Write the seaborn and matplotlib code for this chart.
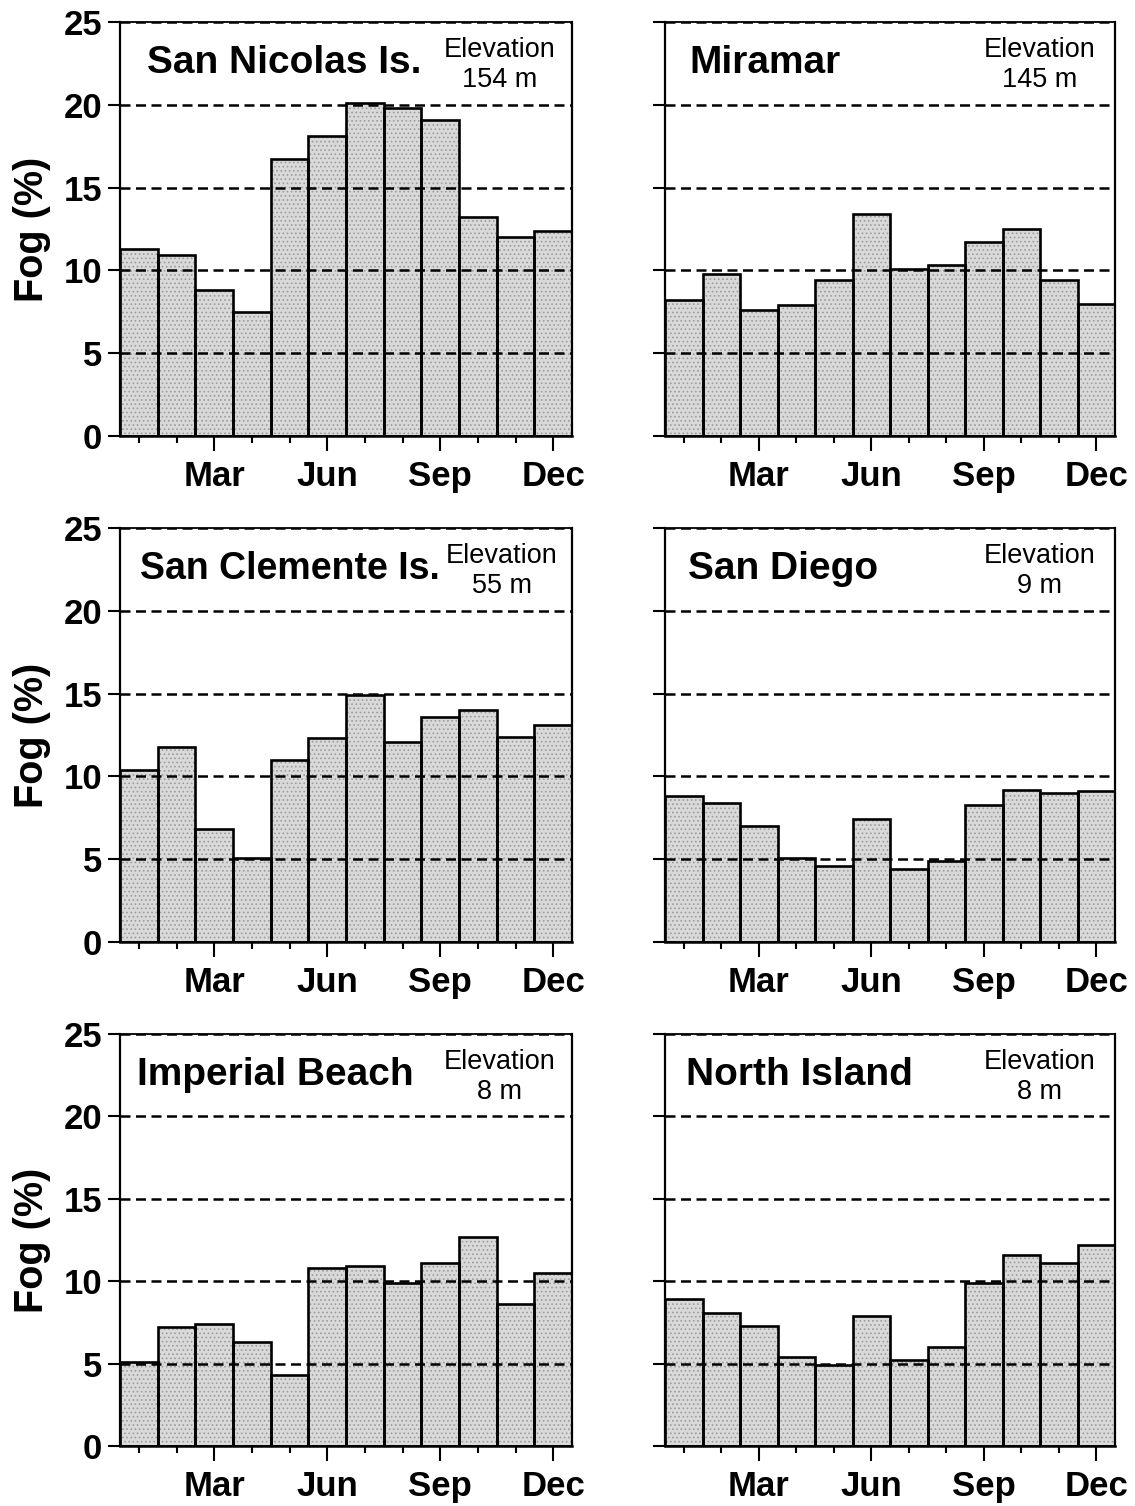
import matplotlib
matplotlib.use("Agg")
import matplotlib.pyplot as plt
import seaborn as sns
import pandas as pd

# ---------------- data ----------------
months = ["Jan", "Feb", "Mar", "Apr", "May", "Jun",
          "Jul", "Aug", "Sep", "Oct", "Nov", "Dec"]
labeled_months = ["Mar", "Jun", "Sep", "Dec"]
y_ticks = [0, 5, 10, 15, 20, 25]

stations = ["San Nicolas Is.", "Miramar", "San Clemente Is.",
            "San Diego", "Imperial Beach", "North Island"]
elevations = ["154 m", "145 m", "55 m", "9 m", "8 m", "8 m"]

san_nicolas = [11.3, 10.9, 8.8, 7.5, 16.7, 18.1, 20.1, 19.8, 19.1, 13.2, 12.0, 12.4]
miramar = [8.2, 9.8, 7.6, 7.9, 9.4, 13.4, 10.1, 10.3, 11.7, 12.5, 9.4, 8.0]
san_clemente = [10.4, 11.8, 6.8, 5.1, 11.0, 12.3, 14.9, 12.1, 13.6, 14.0, 12.4, 13.1]
san_diego = [8.8, 8.4, 7.0, 5.1, 4.6, 7.4, 4.4, 4.9, 8.3, 9.2, 9.0, 9.1]
imperial_beach = [5.1, 7.2, 7.4, 6.3, 4.3, 10.8, 10.9, 9.9, 11.1, 12.7, 8.6, 10.5]
north_island = [8.9, 8.1, 7.3, 5.4, 4.9, 7.9, 5.2, 6.0, 9.9, 11.6, 11.1, 12.2]

series = [san_nicolas, miramar, san_clemente, san_diego, imperial_beach, north_island]

# ---------------- style ----------------
sns.set_style("ticks")
plt.rcParams["font.family"] = ["Liberation Sans", "DejaVu Sans"]
plt.rcParams["hatch.linewidth"] = 0.7
plt.rcParams["text.color"] = "black"
plt.rcParams["axes.labelcolor"] = "black"
plt.rcParams["xtick.color"] = "black"
plt.rcParams["ytick.color"] = "black"

fig = plt.figure(figsize=(11.35, 15.06), dpi=100)

W, H = 1135.0, 1506.0
col_left = [120, 665]
col_width = [452, 450]
row_top = [22, 528, 1034]
row_bottom = [436, 942, 1446]
title_x = [0.060, 0.055, 0.044, 0.050, 0.038, 0.047]
title_size = [28, 28, 27, 28, 28, 28]
elev_x = [0.84, 0.833, 0.845, 0.833, 0.84, 0.833]

for i, (name, elev, vals) in enumerate(zip(stations, elevations, series)):
    r, c = divmod(i, 2)
    left = col_left[c] / W
    bottom = 1 - row_bottom[r] / H
    width = col_width[c] / W
    height = (row_bottom[r] - row_top[r]) / H
    ax = fig.add_axes([left, bottom, width, height])

    df = pd.DataFrame({"month": months, "fog": vals})
    # stippled gray fill
    sns.barplot(data=df, x="month", y="fog", order=months, ax=ax, width=1.0,
                color="#d9d9d9", edgecolor="#9c9c9c", linewidth=0,
                hatch="....", saturation=1)
    # black outlines
    sns.barplot(data=df, x="month", y="fog", order=months, ax=ax, width=1.0,
                fill=False, color="black", linewidth=1.9)

    ax.set_xlim(-0.5, 11.5)
    ax.set_ylim(0, 25)

    # x ticks: major at labelled months, minor elsewhere
    major_pos = [months.index(m) for m in labeled_months]
    minor_pos = [k for k in range(len(months)) if k not in major_pos]
    ax.set_xticks(major_pos)
    ax.set_xticklabels(labeled_months, fontsize=25, fontweight="bold")
    ax.set_xticks(minor_pos, minor=True)
    ax.tick_params(axis="x", which="major", direction="out", length=11,
                   width=1.5, pad=6)
    ax.tick_params(axis="x", which="minor", direction="out", length=5,
                   width=1.5)
    ax.set_xlabel("")

    ax.set_yticks(y_ticks)
    if c == 0:
        ax.set_yticklabels([str(t) for t in y_ticks], fontsize=25, fontweight="bold")
        ax.set_ylabel("Fog (%)", fontsize=28.5, fontweight="bold")
        ax.yaxis.set_label_coords(-0.152, 0.5)
    else:
        ax.set_yticklabels([])
        ax.set_ylabel("")
    ax.tick_params(axis="y", direction="out", length=9, width=1.5, pad=4)

    # dashed horizontal reference grid above bars
    ax.set_axisbelow(False)
    ax.yaxis.grid(True, color="black", linestyle=(0, (4.0, 2.2)), linewidth=1.8)
    ax.xaxis.grid(False)

    for side in ["left", "right", "top", "bottom"]:
        ax.spines[side].set_visible(True)
        ax.spines[side].set_color("black")
    ax.spines["left"].set_linewidth(1.6)
    ax.spines["right"].set_linewidth(1.6)
    ax.spines["bottom"].set_linewidth(1.8)
    ax.spines["top"].set_linewidth(1.3)

    ax.text(title_x[i], 0.90, name, transform=ax.transAxes, fontsize=title_size[i],
            fontweight="bold", ha="left", va="center", zorder=5)
    ax.text(elev_x[i], 0.895, "Elevation\n" + elev, transform=ax.transAxes,
            fontsize=19.5, ha="center", va="center", linespacing=1.2, zorder=5)

fig.savefig("out.png", dpi=100)
